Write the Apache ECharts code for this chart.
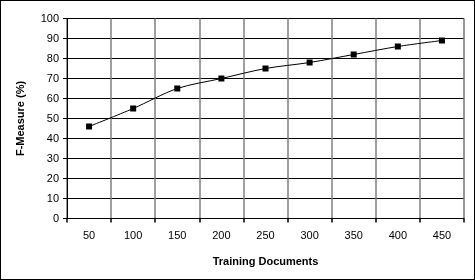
<!DOCTYPE html>
<html><head><meta charset="utf-8">
<style>html,body{margin:0;padding:0;background:#fff}#c{width:475px;height:280px;box-sizing:border-box;border:1.5px solid #000;}</style>
<script src="https://cdn.jsdelivr.net/npm/echarts@6/dist/echarts.min.js"></script>
</head><body><div id="c"></div>
<script>
const categories = ['50','100','150','200','250','300','350','400','450'];
const fMeasure = [46, 55, 65, 70, 75, 78, 82, 86, 89];
const chart = echarts.init(document.getElementById('c'), null, {renderer:'canvas'});
chart.setOption({
  animation:false,
  grid:{left:66,right:10,top:17.5,bottom:60.5,show:true,borderColor:'#c8c8c8',borderWidth:1},
  xAxis:[{type:'category',data:categories,boundaryGap:true,
    name:'Training Documents',nameLocation:'middle',nameGap:38,
    nameTextStyle:{fontFamily:'Liberation Sans',fontWeight:'bold',fontSize:11,color:'#000'},
    axisLine:{lineStyle:{color:'#000'}},
    axisTick:{show:true,interval:0,length:4,lineStyle:{color:'#000',width:1.5}},
    axisLabel:{fontFamily:'Liberation Sans',fontSize:11,color:'#000',margin:12,interval:0},
    splitLine:{show:true,interval:0,lineStyle:{color:'#7f7f7f',width:1.5,type:'solid'}}}],
  yAxis:{type:'value',min:0,max:100,interval:10,
    name:'F-Measure (%)',nameLocation:'middle',nameGap:41,
    nameTextStyle:{fontFamily:'Liberation Sans',fontWeight:'bold',fontSize:11,color:'#000'},
    axisLine:{show:true,lineStyle:{color:'#000'}},
    axisTick:{show:true,length:4,lineStyle:{color:'#000'}},
    axisLabel:{fontFamily:'Liberation Sans',fontSize:11,color:'#000',margin:8},
    splitLine:{show:true,lineStyle:{color:'#000',width:1}}},
  series:[{type:'line',data:fMeasure,smooth:0.3,symbol:'rect',symbolSize:6,z:5,
    lineStyle:{color:'#000',width:1},itemStyle:{color:'#000'}}]
});
</script></body></html>
